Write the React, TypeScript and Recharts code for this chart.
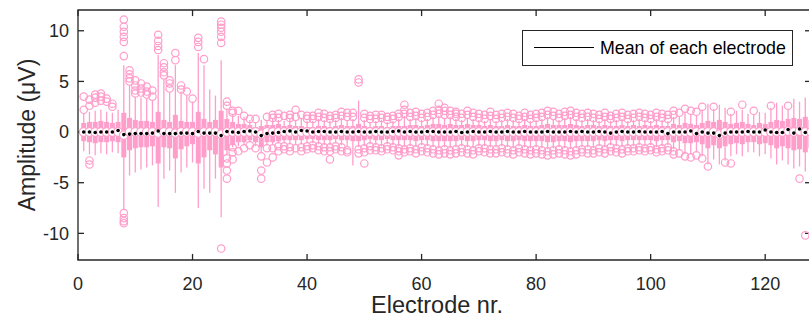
import React from 'react';
import { ComposedChart, Scatter, XAxis, YAxis, ErrorBar, ReferenceArea, ReferenceLine } from 'recharts';

// one entry per electrode (1..128)
const boxHi = [
  0.9, 1.0, 1.0, 1.1, 1.0, 0.9, 1.0, 1.9,
  1.4, 1.2, 1.1, 1.1, 1.0, 2.0, 1.2, 1.0,
  1.7, 1.1, 1.0, 1.0, 2.0, 1.3, 1.0, 1.2,
  2.1, 1.3, 1.0, 0.8, 0.8, 0.7, 0.5, 0.6,
  0.7, 0.7, 0.8, 0.6, 0.7, 0.6, 0.6, 0.5,
  0.5, 0.6, 0.6, 0.5, 0.6, 0.7, 0.6, 0.6,
  0.8, 0.6, 0.5, 0.6, 0.6, 0.5, 0.6, 0.6,
  0.6, 0.7, 0.7, 0.6, 0.7, 0.8, 0.8, 0.7,
  0.8, 0.7, 0.7, 0.8, 0.7, 0.7, 0.6, 0.7,
  0.6, 0.6, 0.7, 0.6, 0.6, 0.7, 0.6, 0.6,
  0.7, 0.8, 0.7, 0.7, 0.7, 0.8, 0.7, 0.6,
  0.7, 0.7, 0.6, 0.7, 0.6, 0.6, 0.7, 0.6,
  0.7, 0.6, 0.7, 0.6, 0.7, 0.6, 0.6, 0.8,
  0.7, 0.9, 0.8, 0.7, 0.9, 1.1, 1.0, 1.2,
  1.0, 0.8, 0.9, 1.0, 0.8, 0.7, 0.9, 0.8,
  1.0, 1.2, 1.1, 1.3, 1.4, 1.3, 1.5, 1.2,
];

const boxLo = [
  -0.9, -1.0, -1.1, -1.0, -1.0, -0.9, -1.0, -2.5,
  -1.8, -1.6, -1.5, -1.5, -1.4, -3.1, -1.5, -1.6,
  -2.6, -1.7, -1.4, -1.2, -3.1, -2.5, -1.8, -2.2,
  -3.5, -1.8, -1.3, -1.0, -1.0, -0.8, -1.0, -1.5,
  -1.0, -1.0, -0.9, -0.8, -0.8, -0.8, -0.8, -0.7,
  -0.7, -0.8, -0.8, -0.8, -0.7, -0.8, -0.8, -0.9,
  -0.9, -0.8, -0.7, -0.8, -0.8, -0.7, -0.8, -0.8,
  -0.8, -0.8, -0.9, -0.8, -0.8, -0.9, -0.9, -0.9,
  -0.9, -0.9, -0.8, -0.9, -0.9, -0.8, -0.8, -0.9,
  -0.9, -0.8, -0.9, -0.9, -0.8, -0.9, -0.9, -0.9,
  -0.9, -1.0, -1.0, -0.9, -0.9, -1.0, -0.9, -0.9,
  -0.9, -0.9, -0.8, -0.9, -0.8, -0.8, -0.9, -0.8,
  -0.8, -0.8, -0.8, -0.8, -0.9, -0.8, -0.8, -1.0,
  -0.9, -1.1, -1.1, -1.0, -1.2, -1.6, -1.3, -1.6,
  -1.4, -1.2, -1.1, -1.2, -1.0, -1.0, -1.2, -1.1,
  -1.3, -1.6, -1.4, -1.6, -1.8, -1.7, -2.0, -1.6,
];

const whiskHi = [
  1.8, 2.0, 2.1, 2.2, 2.0, 1.9, 2.2, 6.6,
  4.6, 3.5, 3.4, 3.3, 3.1, 7.6, 5.2, 3.9,
  6.6, 4.0, 3.6, 3.0, 7.8, 6.6, 4.2, 3.6,
  7.1, 2.3, 1.8, 1.6, 1.5, 1.2, 1.0, 1.2,
  1.2, 1.3, 1.2, 1.1, 1.3, 1.2, 1.3, 1.1,
  1.1, 1.3, 1.2, 1.1, 1.2, 1.4, 1.2, 1.3,
  3.1, 1.2, 1.0, 1.1, 1.2, 1.0, 1.1, 1.3,
  1.6, 1.3, 1.4, 1.2, 1.3, 1.5, 1.6, 1.4,
  1.5, 1.3, 1.2, 1.4, 1.3, 1.2, 1.1, 1.3,
  1.1, 1.2, 1.3, 1.2, 1.1, 1.3, 1.1, 1.2,
  1.3, 1.5, 1.3, 1.2, 1.4, 1.5, 1.3, 1.2,
  1.3, 1.2, 1.1, 1.3, 1.1, 1.2, 1.3, 1.1,
  1.2, 1.3, 1.2, 1.1, 1.3, 1.2, 1.1, 1.5,
  1.6, 2.0, 1.8, 1.7, 2.2, 2.8, 2.3, 2.7,
  2.4, 1.8, 2.1, 2.2, 1.8, 1.7, 2.0, 1.9,
  2.4, 2.9, 2.6, 2.2, 3.3, 3.0, 3.4, 2.9,
];

const whiskLo = [
  -1.9, -2.2, -2.3, -2.1, -2.2, -2.0, -2.1, -7.7,
  -4.3, -4.0, -3.7, -3.5, -3.3, -7.4, -4.6, -3.8,
  -6.0, -4.0, -3.5, -3.0, -7.5, -5.6, -6.0, -4.6,
  -8.4, -2.2, -1.5, -1.4, -1.3, -1.0, -1.4, -2.0,
  -1.3, -1.2, -1.1, -1.1, -1.1, -1.2, -1.2, -1.1,
  -1.1, -1.2, -1.3, -1.3, -1.1, -1.3, -1.4, -3.3,
  -1.5, -1.4, -1.2, -1.3, -1.4, -1.2, -1.3, -1.4,
  -1.5, -1.4, -1.5, -1.3, -1.4, -1.5, -1.6, -1.5,
  -1.6, -1.5, -1.4, -1.5, -1.6, -1.4, -1.4, -1.5,
  -1.5, -1.4, -1.5, -1.6, -1.4, -1.5, -1.6, -1.5,
  -1.6, -1.7, -1.6, -1.5, -1.6, -1.7, -1.6, -1.5,
  -1.5, -1.6, -1.4, -1.5, -1.3, -1.4, -1.5, -1.4,
  -1.4, -1.3, -1.4, -1.3, -1.5, -1.4, -1.3, -1.7,
  -1.8, -2.2, -2.2, -2.0, -2.4, -3.2, -2.7, -3.2,
  -2.8, -2.4, -2.2, -2.4, -2.0, -2.0, -2.4, -2.2,
  -2.6, -3.2, -2.8, -3.2, -3.6, -3.4, -3.9, -3.2,
];

const medians = [
  0, 0, 0, 0, 0, 0, 0, -0.3,
  0, 0, 0, 0, 0, -0.1, 0, 0,
  -0.1, 0, 0, 0, -0.1, 0, 0, 0,
  -0.2, 0, 0, 0, 0, 0, 0, -0.2,
  0, 0, 0, 0, 0, 0, 0, 0,
  0, 0, 0, 0, 0, 0, 0, 0,
  0, 0, 0, 0, 0, 0, 0, 0,
  0, 0, 0, 0, 0, 0, 0, 0,
  0, 0, 0, 0, 0, 0, 0, 0,
  0, 0, 0, 0, 0, 0, 0, 0,
  0, 0, 0, 0, 0, 0, 0, 0,
  0, 0, 0, 0, 0, 0, 0, 0,
  0, 0, 0, 0, 0, 0, 0, 0,
  0, 0, 0, 0, 0, 0, 0, -0.2,
  0, 0, 0, 0, 0, 0, 0, 0,
  0, 0, 0, 0.1, 0, 0.1, 0, 0,
];

const means = [
  0.0, 0.0, -0.05, 0.0, 0.0, 0.0, 0.15, -0.25,
  -0.2, -0.15, -0.15, -0.15, -0.1, 0.1, -0.15, -0.15,
  -0.15, -0.1, -0.1, -0.15, 0.05, -0.1, -0.1, -0.1,
  -0.35, 0.05, 0.0, -0.05, 0.05, 0.1, 0.0, -0.35,
  -0.15, -0.1, -0.05, 0.05, 0.1, 0.0, 0.15, 0.1,
  0.0, 0.05, 0.05, 0.0, 0.0, 0.05, 0.0, 0.0,
  0.05, 0.0, 0.0, 0.05, 0.0, 0.0, 0.05, 0.1,
  0.0, 0.05, 0.0, 0.0, 0.05, 0.05, 0.0, 0.0,
  0.0, 0.05, -0.05, 0.0, 0.05, 0.0, 0.0, 0.05,
  0.0, 0.0, 0.05, 0.0, 0.0, 0.05, 0.0, 0.0,
  0.0, 0.05, 0.0, 0.0, 0.0, 0.05, 0.0, 0.05,
  0.0, 0.0, 0.05, 0.0, -0.1, 0.0, 0.05, 0.0,
  0.0, 0.05, 0.0, 0.0, 0.0, 0.05, -0.15, 0.0,
  0.0, 0.0, 0.1, -0.15, 0.0, -0.1, -0.1, -0.35,
  -0.1, 0.0, 0.0, 0.0, 0.05, 0.0, 0.0, 0.2,
  0.0, -0.05, -0.05, 0.25, -0.1, 0.3, -0.05, -0.1,
];

// outlier values, one list per electrode
const outliers: number[][] = [
  [3.5, 2.2], [3.2, 2.6, -2.8, -3.2], [3.7, 3.4, 2.9], [3.8, 3.5, 3.1],
  [3.3, 3.0], [2.8, 2.5], [], [11.1, 10.4, 9.9, 9.4, 8.9, 7.5, -8.0, -8.5, -8.8, -9.0],
  [6.1, 5.7, 5.3, 5.0], [5.1, 4.6, 4.1, 3.8], [4.8, 4.3, 3.9], [4.5, 4.0, 3.7],
  [4.1, 3.5], [9.6, 9.0, 8.5, 8.1], [6.8, 6.4, 5.9, 5.6], [5.1, 4.8, 4.3],
  [7.8, 7.1], [4.6, 4.2], [4.0], [3.3],
  [9.3, 8.9, 8.4], [7.2], [], [],
  [10.9, 10.6, 10.3, 9.9, 9.4, 8.8, -11.5], [3.0, 2.6, -2.6, -3.1, -3.8, -4.6], [2.1, 1.9, -1.5, -2.0, -2.7], [2.1, -1.9],
  [1.6, -1.6], [1.3, -1.3], [1.3, -1.6], [-2.4, -3.8, -4.6],
  [1.5, -3.0, -1.6], [1.7, 1.4, -1.6, -2.5], [1.8, 1.4, -1.9, -1.4], [1.6, -1.7, -1.4],
  [1.7, 1.4, -1.9, -1.5], [2.2, 1.5, -1.6], [1.7, -1.9, -1.5], [1.6, 1.3, -1.7, -1.4],
  [1.6, 1.3, -1.6, -1.3], [1.9, 1.5, -1.8, -1.4], [1.8, 1.4, -1.9, -1.5], [1.6, 1.3, -2.7, -1.9, -1.5],
  [1.7, 1.4, -1.7, -1.4], [2.0, 1.6, -1.9, -1.5], [1.9, 1.5, -1.8, -2.0], [1.9, 1.5],
  [5.2, 4.9, -2.1, -1.7], [1.8, 1.4, -3.1, -2.0, -1.6], [1.6, 1.3, -1.8, -1.4], [1.7, 1.3, -1.8, -1.5],
  [1.7, 1.4, -1.9, -1.6], [1.5, 1.2, -1.7, -1.4], [1.6, 1.3, -1.8, -1.5], [1.8, 1.5, -2.3, -1.9, -1.6],
  [2.7, 2.2, 1.8, -2.0, -1.7], [1.9, 1.5, -1.9, -1.6], [2.0, 1.6, -2.1, -1.7], [1.8, 1.4, -1.9, -1.5],
  [1.9, 1.5, -2.0, -1.6], [2.1, 1.7, -2.1, -1.7], [2.8, 2.2, 1.8, -2.2, -1.8], [2.4, 2.1, 1.7, -2.1, -1.7],
  [2.1, 1.7, -2.2, -1.8], [2.0, 1.8, 1.5, -2.1, -1.7], [1.8, 1.4, -2.0, -1.6], [2.1, 1.7, -2.1, -1.7],
  [1.9, 1.5, -2.2, -1.8], [1.8, 1.4, -1.9, -1.6], [1.7, 1.3, -2.0, -1.6], [2.0, 1.6, -2.1, -1.7],
  [1.7, 1.3, -2.1, -1.7], [1.8, 1.4, -2.0, -1.6], [1.9, 1.5, -2.1, -1.7], [1.8, 1.4, -2.2, -1.8],
  [1.6, 1.3, -2.0, -1.6], [1.9, 1.5, -2.1, -1.7], [1.7, 1.3, -2.2, -1.8], [1.8, 1.4, -2.1, -1.7],
  [1.9, 1.5, -2.2, -1.8], [2.1, 1.7, -2.3, -1.9], [2.0, 1.6, -2.2, -1.8], [1.8, 1.4, -2.1, -1.7],
  [2.0, 1.6, -2.2, -1.8], [2.1, 1.7, -2.3, -1.9], [1.9, 1.5, -2.2, -1.8], [1.8, 1.4, -2.0, -1.7],
  [1.9, 1.5, -2.1, -1.7], [1.8, 1.4, -2.1, -1.8], [1.7, 1.3, -2.0, -1.6], [1.9, 1.5, -2.1, -1.7],
  [1.6, 1.3, -1.9, -1.5], [1.8, 1.4, -2.0, -1.6], [1.9, 1.5, -2.1, -1.7], [1.7, 1.3, -1.9, -1.6],
  [1.8, 1.4, -1.9, -1.6], [1.9, 1.5, -1.8, -1.5], [1.8, 1.4, -1.9, -1.6], [1.7, 1.3, -1.8, -1.5],
  [1.9, 1.5, -2.0, -1.7], [1.8, 1.4, -1.9, -1.6], [1.7, 1.3, -1.8, -1.5], [2.1, 1.7, -2.2, -1.9],
  [1.9, -2.1], [2.3, -2.4], [2.1, -2.5], [2.0, -2.3],
  [2.5, -2.6], [-3.4], [2.5], [],
  [-3.0], [2.0, -3.1], [], [2.7],
  [], [2.1], [], [],
  [2.6], [], [], [2.6],
  [], [-4.6], [-10.2], [],
];

const xTicks = [0, 20, 40, 60, 80, 100, 120];
const yTicks = [-10, -5, 0, 5, 10];
const xDomain = [0, 128];
const yDomain = [-12.63, 12.05];

const PINK = '#ff9dcb';
const AXIS = '#262626';
const FONT = '"Liberation Sans", Arial, Helvetica, sans-serif';

const rows = means.map((m, i) => ({
  electrode: i + 1,
  median: medians[i],
  mean: m,
  whisk: [medians[i] - whiskLo[i], whiskHi[i] - medians[i]],
  box: [medians[i] - boxLo[i], boxHi[i] - medians[i]],
}));

const outlierPts = outliers.flatMap((vals, i) => vals.map((v) => ({ electrode: i + 1, value: v })));

// inward tick marks of the axes box (about 6 px long)
const TX = 1.05;
const TY = 0.6;

const noShape = () => <g />;

const MedianMark = (props: any) => (
  <circle cx={props.cx} cy={props.cy} r={4.3} fill="#fff" stroke={PINK} strokeWidth={1.2} />
);

const OutlierMark = (props: any) => (
  <circle cx={props.cx} cy={props.cy} r={3.7} fill="none" stroke={PINK} strokeWidth={1.2} />
);

const MeanMark = (props: any) => <circle cx={props.cx} cy={props.cy} r={1.8} fill="#000" />;

export default function App() {
  return (
    <div
      style={{
        position: 'fixed',
        left: 0,
        top: 0,
        width: 809,
        height: 320,
        overflow: 'hidden',
        background: '#fff',
        fontFamily: FONT,
      }}
    >
      <ComposedChart width={811} height={320} margin={{ top: 10, right: 0, bottom: 0, left: 0 }}>
        <XAxis
          type="number"
          dataKey="electrode"
          domain={xDomain}
          ticks={xTicks}
          allowDataOverflow
          height={60}
          tickLine={false}
          tickSize={0}
          tickMargin={17}
          axisLine={false}
          tick={{ fill: AXIS, fontSize: 18, fontFamily: FONT }}
        />
        <YAxis
          type="number"
          domain={yDomain}
          ticks={yTicks}
          allowDataOverflow
          width={78}
          tickLine={false}
          tickSize={0}
          tickMargin={9}
          axisLine={false}
          tick={{ fill: AXIS, fontSize: 18, fontFamily: FONT }}
        />
        <Scatter data={rows} dataKey="median" shape={noShape} isAnimationActive={false}>
          <ErrorBar dataKey="whisk" direction="y" width={0} stroke={PINK} strokeWidth={1.3} isAnimationActive={false} />
          <ErrorBar dataKey="box" direction="y" width={0} stroke={PINK} strokeWidth={5} isAnimationActive={false} />
        </Scatter>
        <Scatter data={rows} dataKey="median" shape={MedianMark} isAnimationActive={false} />
        <Scatter data={outlierPts} dataKey="value" shape={OutlierMark} isAnimationActive={false} />
        <Scatter data={rows} dataKey="mean" shape={MeanMark} isAnimationActive={false} />

        {/* axes box */}
        <ReferenceArea
          x1={xDomain[0]}
          x2={xDomain[1]}
          y1={yDomain[0]}
          y2={yDomain[1]}
          fill="none"
          fillOpacity={0}
          stroke={AXIS}
          strokeWidth={1.3}
          ifOverflow="visible"
        />
        {xTicks.map((t) => (
          <ReferenceLine
            key={`b${t}`}
            segment={[{ x: t, y: yDomain[0] }, { x: t, y: yDomain[0] + TY }]}
            stroke={AXIS}
            strokeWidth={1.3}
            ifOverflow="visible"
          />
        ))}
        {xTicks.map((t) => (
          <ReferenceLine
            key={`t${t}`}
            segment={[{ x: t, y: yDomain[1] }, { x: t, y: yDomain[1] - TY }]}
            stroke={AXIS}
            strokeWidth={1.3}
            ifOverflow="visible"
          />
        ))}
        {yTicks.map((t) => (
          <ReferenceLine
            key={`l${t}`}
            segment={[{ x: xDomain[0], y: t }, { x: xDomain[0] + TX, y: t }]}
            stroke={AXIS}
            strokeWidth={1.3}
            ifOverflow="visible"
          />
        ))}
        {yTicks.map((t) => (
          <ReferenceLine
            key={`r${t}`}
            segment={[{ x: xDomain[1], y: t }, { x: xDomain[1] - TX, y: t }]}
            stroke={AXIS}
            strokeWidth={1.3}
            ifOverflow="visible"
          />
        ))}
      </ComposedChart>

      {/* legend */}
      <div
        style={{
          position: 'absolute',
          left: 522,
          top: 30,
          width: 269,
          height: 34,
          border: `1px solid ${AXIS}`,
          background: '#fff',
        }}
      >
        <div style={{ position: 'absolute', left: 11, top: 16, width: 60, height: 0, borderTop: '1.3px solid #000' }} />
        <div style={{ position: 'absolute', left: 77, top: 6, fontSize: 17.8, lineHeight: '22px', color: '#000', whiteSpace: 'nowrap' }}>
          Mean of each electrode
        </div>
      </div>

      {/* axis titles */}
      <div
        style={{
          position: 'absolute',
          left: 437,
          top: 294,
          transform: 'translateX(-50%)',
          fontSize: 23.5,
          lineHeight: 1,
          color: AXIS,
          whiteSpace: 'nowrap',
        }}
      >
        Electrode nr.
      </div>
      <div
        style={{
          position: 'absolute',
          left: 27,
          top: 135,
          transform: 'translate(-50%, -50%) rotate(-90deg)',
          fontSize: 23,
          lineHeight: 1,
          color: AXIS,
          whiteSpace: 'nowrap',
        }}
      >
        Amplitude (μV)
      </div>
    </div>
  );
}
